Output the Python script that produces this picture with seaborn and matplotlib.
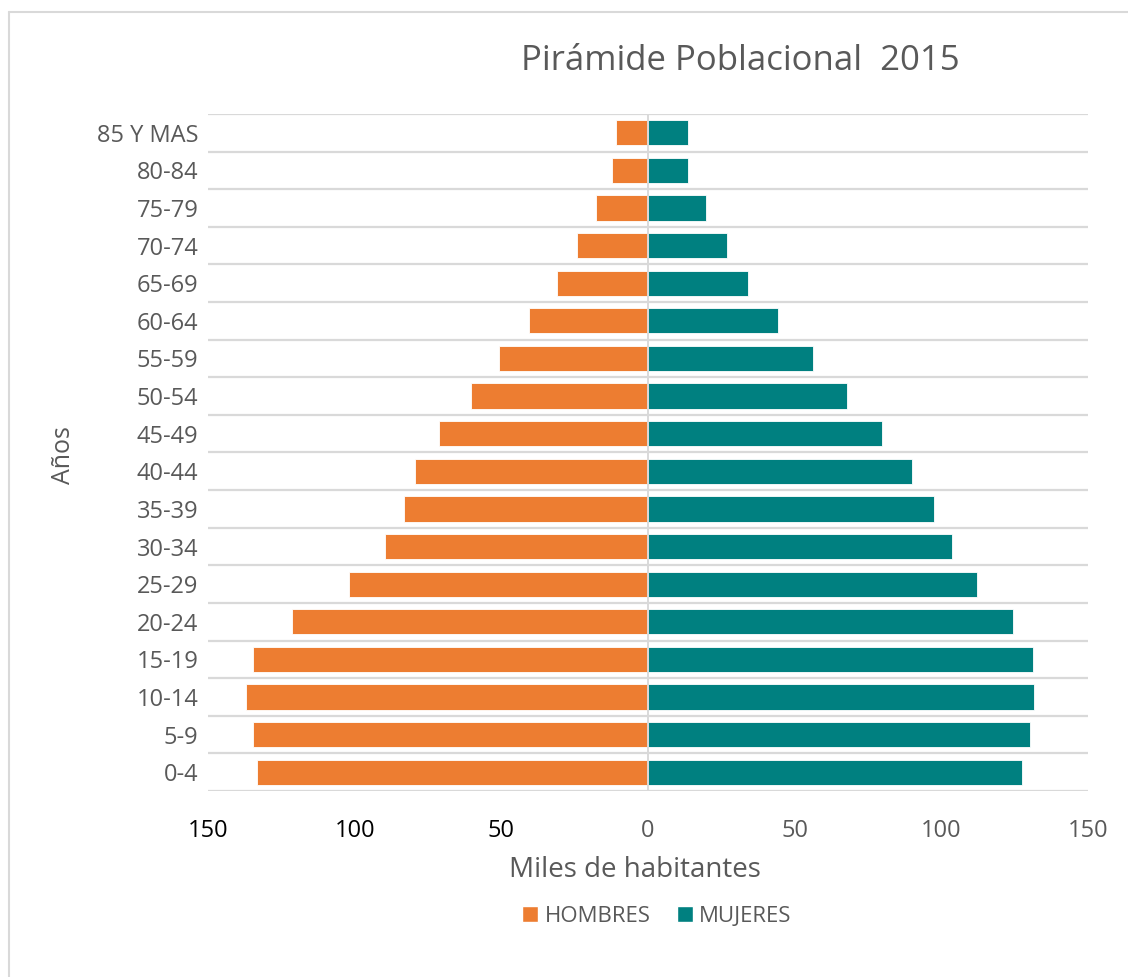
import matplotlib
matplotlib.use("Agg")
import matplotlib.pyplot as plt
import seaborn as sns
import pandas as pd
from matplotlib.lines import Line2D
from matplotlib.patches import Patch

grupos = ["85 Y MAS", "80-84", "75-79", "70-74", "65-69", "60-64", "55-59",
          "50-54", "45-49", "40-44", "35-39", "30-34", "25-29", "20-24",
          "15-19", "10-14", "5-9", "0-4"]
hombres = [10.9, 12.2, 17.7, 24.1, 31.1, 40.7, 50.8, 60.4, 71.3, 79.3,
           83.3, 89.7, 102.0, 121.2, 134.6, 137.2, 134.7, 133.2]
mujeres = [13.7, 13.5, 19.8, 27.0, 34.1, 44.3, 56.2, 68.0, 79.9, 90.1,
           97.5, 103.6, 112.2, 124.4, 131.4, 131.5, 130.2, 127.4]
xticks = [-150, -100, -50, 0, 50, 100, 150]

col_h = "#ED7D31"
col_m = "#008080"
gray_txt = "#595959"
grid_col = "#D9D9D9"

df = pd.DataFrame({
    "grupo": grupos * 2,
    "valor": [-v for v in hombres] + mujeres,
    "sexo": ["HOMBRES"] * len(grupos) + ["MUJERES"] * len(grupos),
})

sns.set_theme(style="white")
plt.rcParams["font.family"] = ["Open Sans", "DejaVu Sans"]

fig = plt.figure(figsize=(11.28, 9.77), dpi=100)
ax = fig.add_axes([208 / 1128, 1 - 791 / 977, (1088 - 208) / 1128, (791 - 114) / 977])

sns.barplot(data=df, y="grupo", x="valor", hue="sexo", order=grupos,
            orient="h", dodge=False, width=0.67, saturation=1,
            palette={"HOMBRES": col_h, "MUJERES": col_m},
            edgecolor="white", linewidth=0.6, ax=ax, legend=False, zorder=3)

ax.set_xlim(-150, 150)
ax.set_ylim(len(grupos) - 0.5, -0.5)
ax.set_xticks(xticks)
ax.set_xticklabels([str(abs(t)) for t in xticks], fontsize=17)
for t, lab in zip(xticks, ax.get_xticklabels()):
    lab.set_color("black" if t < 0 else gray_txt)
ax.tick_params(axis="x", length=0, pad=20)
ax.tick_params(axis="y", length=0, pad=7, labelsize=17, labelcolor=gray_txt)

ax.set_yticks([i - 0.5 for i in range(len(grupos) + 1)], minor=True)
ax.grid(which="minor", axis="y", color=grid_col, linewidth=1.6, zorder=0)
ax.grid(which="major", axis="both", visible=False)
ax.axvline(0, color=grid_col, linewidth=1.4, zorder=4)
for s in ax.spines.values():
    s.set_visible(False)

ax.set_xlabel("Miles de habitantes", fontsize=20, color=gray_txt)
ax.xaxis.set_label_coords((635 - 208) / 880, -(870 - 791) / 677)
ax.xaxis.label.set_va("center")
ax.set_ylabel("Años", fontsize=18, color=gray_txt)
ax.yaxis.set_label_coords(-(208 - 63) / 880, (791 - 455) / 677)
ax.yaxis.label.set_va("center")

fig.text(740 / 1128, 1 - 61 / 977, "Pirámide Poblacional  2015",
         ha="center", va="center", fontsize=25, color=gray_txt)

handles = [Patch(facecolor=col_h, label="HOMBRES"),
           Patch(facecolor=col_m, label="MUJERES")]
fig.legend(handles=handles, loc="center", bbox_to_anchor=(657 / 1128, 1 - 916 / 977),
           ncol=2, frameon=False, fontsize=16, handlelength=0.7, handleheight=0.7,
           handletextpad=0.3, columnspacing=1.2, labelcolor=gray_txt)

fig.add_artist(Line2D([9 / 1128, 9 / 1128], [0, 1 - 12 / 977], transform=fig.transFigure,
                      color="#D9D9D9", linewidth=1.5))
fig.add_artist(Line2D([9 / 1128, 1], [1 - 12 / 977, 1 - 12 / 977], transform=fig.transFigure,
                      color="#D9D9D9", linewidth=1.5))

fig.savefig("out.png", dpi=100)
